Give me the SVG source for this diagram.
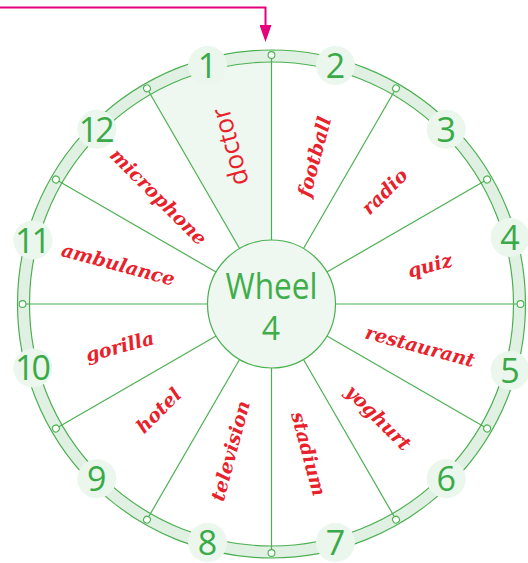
<svg xmlns="http://www.w3.org/2000/svg" xmlns:xlink="http://www.w3.org/1999/xlink" width="528" height="563" viewBox="0 0 528 563">
<style>
.spoke{stroke:#4cb052;stroke-width:1.2;fill:none}
.ringline{stroke:#4cb052;stroke-width:1.2;fill:none}
.dot{fill:#ffffff;stroke:#4cb052;stroke-width:1.1}
.numbg{fill:#ebf6ed}
.num{font-family:"Open Sans","DejaVu Sans",sans-serif;font-size:34px;fill:#3aaa48;text-anchor:middle}
.num2{letter-spacing:-3px}
.word{font-family:"DejaVu Serif","Liberation Serif",serif;font-style:italic;font-weight:bold;font-size:19px;fill:#e8212b;text-anchor:middle}
.title{font-family:"Open Sans","DejaVu Sans",sans-serif;fill:#3fae4a;text-anchor:middle}
</style>
<defs>
<marker id="ah" markerUnits="userSpaceOnUse" viewBox="0 0 17 12" markerWidth="17" markerHeight="12" refX="5" refY="6" orient="auto">
<path d="M0,0 L17,6 L0,12 Z" fill="#e5007d"/>
</marker>
<line id="sp" class="spoke" x1="271.5" y1="240" x2="271.5" y2="52.5"/>
<circle id="dt" class="dot" cx="271.5" cy="55" r="3.4"/>
</defs>

<g id="connectors">
<path d="M0,7.5 H265.5 V30" fill="none" stroke="#e5007d" stroke-width="2" marker-end="url(#ah)"/>
</g>

<g id="wheel">
<path d="M271.5,304 L150.5,94.4 A242,242 0 0 1 271.5,62 Z" fill="#eef7f0"/>
<circle cx="271.5" cy="304" r="248" fill="none" stroke="#e0f1e3" stroke-width="12"/>
<circle class="ringline" cx="271.5" cy="304" r="254"/>
<circle class="ringline" cx="271.5" cy="304" r="242"/>
<use xlink:href="#sp"/>
<use xlink:href="#sp" transform="rotate(30 271.5 304)"/>
<use xlink:href="#sp" transform="rotate(60 271.5 304)"/>
<use xlink:href="#sp" transform="rotate(90 271.5 304)"/>
<use xlink:href="#sp" transform="rotate(120 271.5 304)"/>
<use xlink:href="#sp" transform="rotate(150 271.5 304)"/>
<use xlink:href="#sp" transform="rotate(180 271.5 304)"/>
<use xlink:href="#sp" transform="rotate(210 271.5 304)"/>
<use xlink:href="#sp" transform="rotate(240 271.5 304)"/>
<use xlink:href="#sp" transform="rotate(270 271.5 304)"/>
<use xlink:href="#sp" transform="rotate(300 271.5 304)"/>
<use xlink:href="#sp" transform="rotate(330 271.5 304)"/>
<use xlink:href="#dt"/>
<use xlink:href="#dt" transform="rotate(30 271.5 304)"/>
<use xlink:href="#dt" transform="rotate(60 271.5 304)"/>
<use xlink:href="#dt" transform="rotate(90 271.5 304)"/>
<use xlink:href="#dt" transform="rotate(120 271.5 304)"/>
<use xlink:href="#dt" transform="rotate(150 271.5 304)"/>
<use xlink:href="#dt" transform="rotate(180 271.5 304)"/>
<use xlink:href="#dt" transform="rotate(210 271.5 304)"/>
<use xlink:href="#dt" transform="rotate(240 271.5 304)"/>
<use xlink:href="#dt" transform="rotate(270 271.5 304)"/>
<use xlink:href="#dt" transform="rotate(300 271.5 304)"/>
<use xlink:href="#dt" transform="rotate(330 271.5 304)"/>
</g>

<g id="center">
<circle cx="271.5" cy="304" r="64" fill="#eef7f0" stroke="#4cb052" stroke-width="1.2"/>
<text class="title" x="271.5" y="299" font-size="37" textLength="92" lengthAdjust="spacingAndGlyphs">Wheel</text>
<text class="title" x="271" y="340" font-size="32">4</text>
</g>

<g id="n1"><circle class="numbg" cx="207.6" cy="65.4" r="19.5"/><text class="num" x="207.6" y="77.9">1</text></g>
<g id="n2"><circle class="numbg" cx="335.4" cy="65.4" r="19.5"/><text class="num" x="335.4" y="77.9">2</text></g>
<g id="n3"><circle class="numbg" cx="446.2" cy="129.3" r="19.5"/><text class="num" x="446.2" y="141.8">3</text></g>
<g id="n4"><circle class="numbg" cx="510.1" cy="237.5" r="19.5"/><text class="num" x="510.1" y="250">4</text></g>
<g id="n5"><circle class="numbg" cx="510.1" cy="370.5" r="19.5"/><text class="num" x="510.1" y="383">5</text></g>
<g id="n6"><circle class="numbg" cx="446.2" cy="478.7" r="19.5"/><text class="num" x="446.2" y="491.2">6</text></g>
<g id="n7"><circle class="numbg" cx="335.4" cy="542.6" r="19.5"/><text class="num" x="335.4" y="554.6">7</text></g>
<g id="n8"><circle class="numbg" cx="207.6" cy="542.6" r="19.5"/><text class="num" x="207.6" y="554.6">8</text></g>
<g id="n9"><circle class="numbg" cx="96.8" cy="478.7" r="19.5"/><text class="num" x="96.8" y="491.2">9</text></g>
<g id="n10"><circle class="numbg" cx="32.9" cy="367.9" r="19.5"/><text class="num num2" x="31.4" y="380.4">10</text></g>
<g id="n11"><circle class="numbg" cx="32.9" cy="240.1" r="19.5"/><text class="num num2" x="31.4" y="252.6">11</text></g>
<g id="n12"><circle class="numbg" cx="96.8" cy="129.3" r="19.5"/><text class="num num2" x="95.3" y="141.8">12</text></g>

<g id="w1"><text x="0" y="8" transform="translate(231 146.5) rotate(-105)" font-family="'Open Sans','DejaVu Sans',sans-serif" font-size="26" fill="#e8212b" text-anchor="middle">doctor</text></g>
<g id="w2"><text class="word" x="0" y="6" transform="translate(315 157) rotate(-75)">football</text></g>
<g id="w3"><text class="word" x="0" y="6" transform="translate(385 192) rotate(-45)">radio</text></g>
<g id="w4"><text class="word" x="0" y="6" transform="translate(430 266) rotate(-15)">quiz</text></g>
<g id="w5"><text class="word" x="0" y="6" transform="translate(420 347) rotate(15)">restaurant</text></g>
<g id="w6"><text class="word" x="0" y="6" transform="translate(378 418) rotate(45)">yoghurt</text></g>
<g id="w7"><text class="word" x="0" y="6" transform="translate(308 454) rotate(75)">stadium</text></g>
<g id="w8"><text class="word" x="0" y="6" transform="translate(231 451) rotate(-75)">television</text></g>
<g id="w9"><text class="word" x="0" y="6" transform="translate(159 411) rotate(-45)">hotel</text></g>
<g id="w10"><text class="word" x="0" y="6" transform="translate(120 347) rotate(-15)">gorilla</text></g>
<g id="w11"><text class="word" x="0" y="6" transform="translate(118 265) rotate(15)">ambulance</text></g>
<g id="w12"><text class="word" x="0" y="6" transform="translate(158 197) rotate(45)">microphone</text></g>
</svg>
